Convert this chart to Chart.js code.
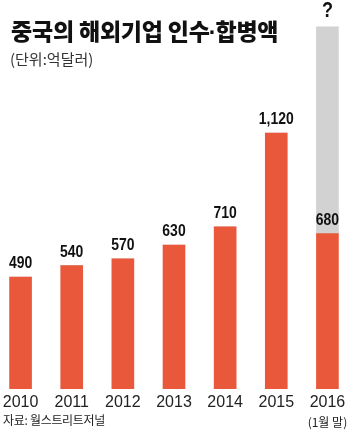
<!DOCTYPE html>
<html>
<head>
<meta charset="utf-8">
<script src="https://cdn.jsdelivr.net/npm/chart.js@4/dist/chart.umd.min.js"></script>
<style>
    html, body { margin: 0; padding: 0; background: #fff; }
    #wrap { position: relative; width: 363px; height: 443px; overflow: hidden; }
    #grafico { position: absolute; left: -5px; top: 0; }
    .titulo { position: absolute; left: 11px; top: 13px; font: 900 23px "Noto Sans CJK KR"; letter-spacing: -0.2px; color: #111; white-space: nowrap; }
    .titulo .punto { font-family: "Liberation Sans"; letter-spacing: 0; margin: 0 -1px; }
    .unidad { position: absolute; left: 10px; top: 48px; font: 15px "Noto Sans CJK KR"; color: #333; white-space: nowrap; }
    .fuente { position: absolute; left: 3px; top: 411px; font: 12px "Noto Sans CJK KR"; color: #222; white-space: nowrap; letter-spacing: -0.3px; }
</style>
</head>
<body>
<div id="wrap">
    <canvas id="grafico" width="368" height="443"></canvas>
    <div class="titulo">중국의 해외기업 인수<span class="punto">·</span>합병액</div>
    <div class="unidad">(단위:억달러)</div>
    <div class="fuente">자료: 월스트리트저널</div>
</div>
<script>
var anios = ['2010', '2011', '2012', '2013', '2014', '2015', '2016'];
var subEtiquetas = ['', '', '', '', '', '', '(1월 말)'];
var montos = [490, 540, 570, 630, 710, 1120, 680];
var etiquetas = ['490', '540', '570', '630', '710', '1,120', '680'];
// parte gris sin confirmar (solo 2016)
var pendiente = [0, 0, 0, 0, 0, 0, 905];

var NARANJA = '#E9583A';
var GRIS = '#D2D2D2';

// texto bold angosto: se comprime en horizontal
function textoAngosto(ctx, txt, x, y) {
    ctx.save();
    ctx.translate(x, y);
    ctx.scale(0.82, 1);
    ctx.fillText(txt, 0, 0);
    ctx.restore();
}

// Dibuja valores, años y el signo de pregunta usando las escalas
var textos = {
    id: 'textos',
    afterDatasetsDraw: function (chart) {
        var ctx = chart.ctx;
        var x = chart.scales.x;
        var y = chart.scales.y;
        ctx.save();
        ctx.textAlign = 'center';
        ctx.fillStyle = '#111';

        ctx.font = 'bold 17px "Liberation Sans", Arial';
        ctx.textBaseline = 'bottom';
        montos.forEach(function (v, i) {
            textoAngosto(ctx, etiquetas[i], x.getPixelForValue(i), y.getPixelForValue(v) - 5);
        });

        // "?" encima de la barra gris
        var ultimo = montos.length - 1;
        ctx.font = 'bold 22px "Liberation Sans", Arial';
        textoAngosto(ctx, '?', x.getPixelForValue(ultimo), y.getPixelForValue(montos[ultimo] + pendiente[ultimo]) - 5);

        ctx.textBaseline = 'middle';
        ctx.font = '16px "Liberation Sans", Arial';
        ctx.fillStyle = '#222';
        anios.forEach(function (a, i) {
            ctx.fillText(a, x.getPixelForValue(i), 403);
        });
        ctx.font = '12px "Noto Sans CJK KR"';
        subEtiquetas.forEach(function (s, i) {
            if (s) ctx.fillText(s, x.getPixelForValue(i), 422);
        });
        ctx.restore();
    }
};

new Chart(document.getElementById('grafico').getContext('2d'), {
    type: 'bar',
    data: {
        labels: anios,
        datasets: [{
            data: montos,
            backgroundColor: NARANJA,
            barThickness: 22,
            stack: 's'
        }, {
            data: pendiente,
            backgroundColor: GRIS,
            barThickness: 22,
            stack: 's'
        }]
    },
    options: {
        responsive: false,
        animation: false,
        layout: { padding: { top: 0, bottom: 54, left: 0, right: 10 } },
        scales: {
            x: { display: false, stacked: true },
            y: { display: false, stacked: true, min: 0, max: 1702 }
        },
        plugins: {
            legend: { display: false },
            tooltip: { enabled: false }
        }
    },
    plugins: [textos]
});
</script>
</body>
</html>
